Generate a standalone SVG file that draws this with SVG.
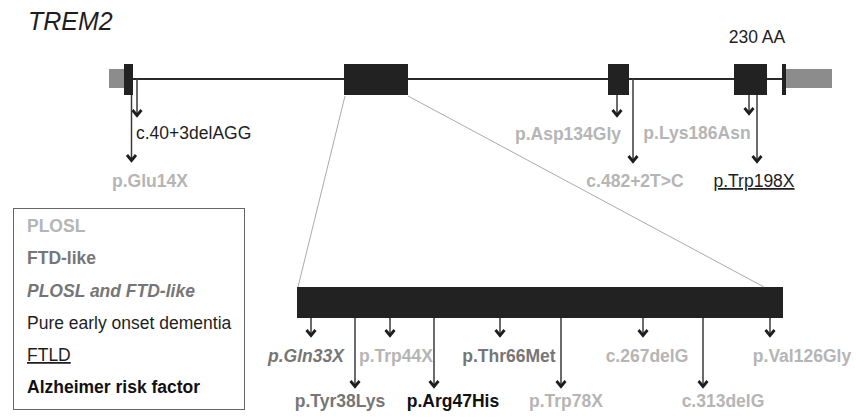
<svg xmlns="http://www.w3.org/2000/svg" width="856" height="420" viewBox="0 0 856 420">
<style>
text{font-family:"Liberation Sans",Arial,sans-serif;font-size:17.5px}
.lg{fill:#b5b5b5;font-weight:bold}
.dg{fill:#767676;font-weight:bold}
.dgi{fill:#767676;font-weight:bold;font-style:italic}
.bk{fill:#1e1e1e}
.bkb{fill:#111;font-weight:bold}
.m{text-anchor:middle}
.exon{fill:#222}
.utr{fill:#8c8c8c}
.arr{stroke:#3a3a3a;stroke-width:1.5;fill:none;marker-end:url(#ah)}
.zoom{stroke:#aaa;stroke-width:1;fill:none}
</style>
<defs>
<marker id="ah" markerUnits="userSpaceOnUse" viewBox="-9 -7 11 14" markerWidth="11" markerHeight="14" refX="0" refY="0" orient="auto">
<path d="M-6,-4.5 L-0.5,0 L-6,4.5" fill="none" stroke="#1e1e1e" stroke-width="2.8"/>
</marker>
</defs>
<rect width="856" height="420" fill="#fff"/>
<text x="28" y="30" class="bk" style="font-size:25px;font-style:italic">TREM2</text>

<g id="gene">
<line x1="124" y1="79" x2="784" y2="79" stroke="#2a2a2a" stroke-width="2"/>
<rect class="utr" x="109" y="69" width="16" height="19"/>
<rect class="utr" x="786" y="69" width="46" height="19"/>
<rect id="exon1" class="exon" x="124" y="64" width="9" height="31"/>
<rect id="exon2" class="exon" x="344" y="64" width="64" height="31"/>
<rect id="exon3" class="exon" x="608" y="64" width="21" height="31"/>
<rect id="exon4" class="exon" x="734" y="64" width="33" height="31"/>
<rect class="exon" x="782" y="64" width="4" height="31"/>
<text x="757" y="43" class="bk m">230 AA</text>
</g>

<g id="protein">
<rect class="exon" x="297" y="287" width="486" height="31"/>
</g>

<g id="connectors">
<line class="zoom" x1="345" y1="96" x2="298" y2="287"/>
<line class="zoom" x1="408" y1="96" x2="764" y2="287"/>
<line class="arr" x1="137" y1="79" x2="137" y2="116"/>
<line class="arr" x1="131.5" y1="95" x2="131.5" y2="161"/>
<line class="arr" x1="617" y1="95" x2="617" y2="116"/>
<line class="arr" x1="633" y1="79" x2="633" y2="162"/>
<line class="arr" x1="749" y1="95" x2="749" y2="114"/>
<line class="arr" x1="757" y1="95" x2="757" y2="162"/>
<line class="arr" x1="311" y1="318" x2="311" y2="336"/>
<line class="arr" x1="355" y1="318" x2="355" y2="387"/>
<line class="arr" x1="390" y1="318" x2="390" y2="336"/>
<line class="arr" x1="434" y1="318" x2="434" y2="387"/>
<line class="arr" x1="500" y1="318" x2="500" y2="336"/>
<line class="arr" x1="561" y1="318" x2="561" y2="387"/>
<line class="arr" x1="643" y1="318" x2="643" y2="336"/>
<line class="arr" x1="703" y1="318" x2="703" y2="387"/>
<line class="arr" x1="770" y1="318" x2="770" y2="336"/>
</g>

<g id="labels">
<text x="136" y="139" class="bk">c.40+3delAGG</text>
<text x="150" y="187" class="lg m">p.Glu14X</text>
<text x="568" y="140" class="lg m">p.Asp134Gly</text>
<text x="635" y="187" class="lg m">c.482+2T&gt;C</text>
<text x="697" y="139" class="lg m">p.Lys186Asn</text>
<text x="754" y="187" class="bk m" text-decoration="underline">p.Trp198X</text>
<text x="306" y="362" class="dgi m">p.Gln33X</text>
<text x="340" y="407" class="dg m">p.Tyr38Lys</text>
<text x="396" y="362" class="lg m">p.Trp44X</text>
<text x="453" y="407" class="bkb m">p.Arg47His</text>
<text x="509" y="362" class="dg m">p.Thr66Met</text>
<text x="566" y="407" class="lg m">p.Trp78X</text>
<text x="647" y="362" class="lg m">c.267delG</text>
<text x="723" y="407" class="lg m">c.313delG</text>
<text x="802" y="362" class="lg m">p.Val126Gly</text>
</g>

<g id="legend">
<rect x="13.5" y="208.5" width="231" height="201" fill="none" stroke="#666" stroke-width="1"/>
<text x="27" y="232" class="lg">PLOSL</text>
<text x="27" y="264" class="dg">FTD-like</text>
<text x="27" y="297" class="dgi">PLOSL and FTD-like</text>
<text x="27" y="329" class="bk">Pure early onset dementia</text>
<text x="27" y="361" class="bk" text-decoration="underline">FTLD</text>
<text x="27" y="393" class="bkb">Alzheimer risk factor</text>
</g>
</svg>
